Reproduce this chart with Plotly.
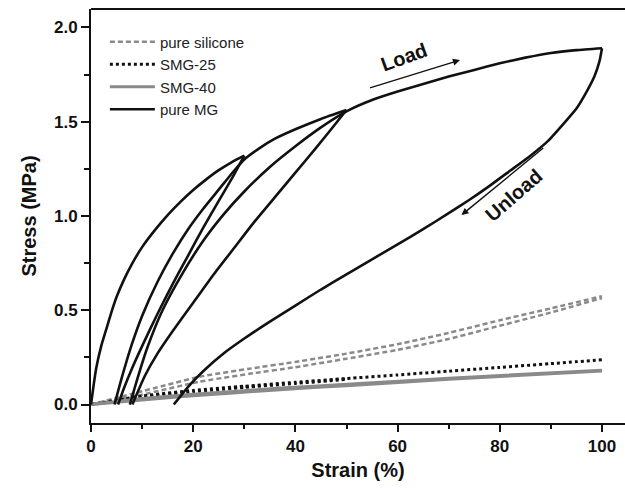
import plotly.graph_objects as go

# ---------------- data ----------------
# pure MG: cyclic loading to 30 %, 50 %, 100 % strain
mg_load1_strain = [0, 0.5, 1, 2, 3, 4, 5, 6.5, 8, 10, 12.5, 15, 17.5, 20, 22.5, 25, 27.5, 30]
mg_load1_stress = [0, 0.10, 0.19, 0.31, 0.40, 0.49, 0.57, 0.665, 0.745, 0.835, 0.925, 1.005,
                   1.075, 1.138, 1.193, 1.243, 1.285, 1.32]

mg_unload1_strain = [30, 28, 25, 22, 19, 16, 13, 10, 8, 6.5, 5.3]
mg_unload1_stress = [1.32, 1.22, 1.08, 0.94, 0.79, 0.64, 0.48, 0.31, 0.19, 0.09, 0]

mg_load2_strain = [4.6, 6, 8, 10, 13, 16, 19, 22, 25, 28, 30, 33, 36, 40, 45, 50]
mg_load2_stress = [0, 0.14, 0.32, 0.47, 0.65, 0.80, 0.93, 1.04, 1.14, 1.24, 1.30, 1.36,
                   1.41, 1.46, 1.515, 1.562]

mg_unload2_strain = [50, 47, 44, 40, 36, 32, 28, 24, 20, 16, 13, 10.5, 8.1]
mg_unload2_stress = [1.562, 1.46, 1.36, 1.23, 1.10, 0.97, 0.83, 0.69, 0.54, 0.39, 0.27, 0.15, 0]

mg_load3_strain = [7.6, 9, 11, 14, 18, 22, 26, 30, 35, 40, 45, 50, 55, 60, 65, 70, 75, 80,
                   85, 90, 95, 100]
mg_load3_stress = [0, 0.13, 0.30, 0.50, 0.70, 0.87, 1.01, 1.13, 1.26, 1.37, 1.47, 1.555,
                   1.615, 1.66, 1.70, 1.74, 1.775, 1.81, 1.84, 1.865, 1.88, 1.89]

mg_unload3_strain = [100, 99.5, 98.5, 97, 95, 92.5, 89.5, 86, 82, 78, 74, 70, 65, 60, 55, 50,
                     45, 40, 35, 30, 26, 22, 19, 16.2]
mg_unload3_stress = [1.89, 1.82, 1.74, 1.66, 1.57, 1.49, 1.40, 1.32, 1.24, 1.16, 1.085, 1.015,
                     0.93, 0.85, 0.77, 0.69, 0.61, 0.525, 0.44, 0.35, 0.272, 0.178, 0.094, 0]

# pure silicone (load / unload)
sil_strain = [0, 5, 10, 21, 31, 40, 50, 60, 70, 80, 90, 100]
sil_load = [0, 0.035, 0.07, 0.146, 0.19, 0.226, 0.27, 0.32, 0.38, 0.447, 0.51, 0.575]
sil_unload = [0, 0.025, 0.052, 0.12, 0.163, 0.198, 0.243, 0.29, 0.348, 0.418, 0.488, 0.565]

# SMG-25
smg25_strain = [0, 10, 20, 30, 40, 50, 60, 70, 80, 90, 100]
smg25_load = [0, 0.045, 0.075, 0.097, 0.118, 0.138, 0.157, 0.177, 0.197, 0.217, 0.237]
smg25_cyc_strain = [0, 10, 20, 30, 40, 50]
smg25_cyc_stress = [0, 0.038, 0.068, 0.091, 0.112, 0.133]

# SMG-40
smg40_strain = [0, 10, 20, 37, 50, 70, 100]
smg40_load = [0, 0.032, 0.054, 0.087, 0.107, 0.14, 0.182]
smg40_unload = [0, 0.024, 0.046, 0.079, 0.1, 0.134, 0.178]

x_ticks = [0, 20, 40, 60, 80, 100]
y_ticks = [0.0, 0.5, 1.0, 1.5, 2.0]

GRAY = "#8a8a8a"
BLACK = "#111111"

fig = go.Figure()


def add(x, y, name, color, width, dash, show):
    fig.add_trace(go.Scatter(
        x=x, y=y, mode="lines", name=name, legendgroup=name, showlegend=show,
        line=dict(color=color, width=width, dash=dash, shape="spline", smoothing=0.5),
        hoverinfo="skip"))


add(sil_strain, sil_load, "pure silicone", GRAY, 2.5, "5px,3px", True)
add(sil_strain, sil_unload, "pure silicone", GRAY, 2.5, "5px,3px", False)

add(smg25_strain, smg25_load, "SMG-25", BLACK, 3, "dot", True)
add(smg25_cyc_strain, smg25_cyc_stress, "SMG-25", BLACK, 3, "dot", False)

add(smg40_strain, smg40_load, "SMG-40", GRAY, 3, "solid", True)
add(smg40_strain, smg40_unload, "SMG-40", GRAY, 3, "solid", False)

mg = [
    (mg_load1_strain, mg_load1_stress),
    (mg_unload1_strain, mg_unload1_stress),
    (mg_load2_strain, mg_load2_stress),
    (mg_unload2_strain, mg_unload2_stress),
    (mg_load3_strain, mg_load3_stress),
    (mg_unload3_strain, mg_unload3_stress),
]
for i, (xs, ys) in enumerate(mg):
    add(xs, ys, "pure MG", BLACK, 2.6, "solid", i == 0)

FONT = "Liberation Sans, Arial, sans-serif"

# Load / Unload arrows and labels (data coordinates)
fig.add_annotation(x=72.2, y=1.827, ax=54.3, ay=1.677, xref="x", yref="y", axref="x", ayref="y",
                   showarrow=True, arrowhead=2, arrowsize=1, arrowwidth=1.4, arrowcolor=BLACK, text="")
fig.add_annotation(x=72.5, y=1.005, ax=88.8, ay=1.367, xref="x", yref="y", axref="x", ayref="y",
                   showarrow=True, arrowhead=2, arrowsize=1, arrowwidth=1.4, arrowcolor=BLACK, text="")
fig.add_annotation(x=61.3, y=1.845, text="<b>Load</b>", showarrow=False, textangle=-20,
                   font=dict(family=FONT, size=20, color=BLACK))
fig.add_annotation(x=82.8, y=1.11, text="<b>Unload</b>", showarrow=False, textangle=-41,
                   font=dict(family=FONT, size=20, color=BLACK))

# top border of the frame
fig.add_shape(type="line", xref="paper", yref="paper", x0=0, x1=1, y0=1, y1=1,
              line=dict(color=BLACK, width=2))

fig.update_layout(
    width=625, height=491,
    margin=dict(l=91, r=0, t=9, b=68),
    paper_bgcolor="white", plot_bgcolor="white",
    font=dict(family=FONT, color=BLACK),
    showlegend=True,
    legend=dict(x=0.026, y=0.96, xanchor="left", yanchor="top",
                bgcolor="rgba(0,0,0,0)", font=dict(family=FONT, size=15, color="#222222"),
                itemwidth=45, tracegroupgap=0),
    xaxis=dict(range=[0, 104.5], tickvals=x_ticks, ticktext=[str(v) for v in x_ticks],
               showline=True, linecolor=BLACK, linewidth=2, mirror=False,
               ticks="outside", ticklen=7, tickwidth=2, tickcolor=BLACK,
               minor=dict(dtick=10, tick0=0, ticks="outside", ticklen=4, tickwidth=1.5, tickcolor=BLACK),
               showgrid=False, zeroline=False,
               tickfont=dict(family=FONT, size=17, color=BLACK, weight="bold"),
               title=dict(text="<b>Strain (%)</b>", font=dict(family=FONT, size=20, color=BLACK), standoff=8)),
    yaxis=dict(range=[-0.098, 2.098], tickvals=y_ticks, ticktext=[f"{v:.1f}" for v in y_ticks],
               showline=True, linecolor=BLACK, linewidth=2, mirror=False,
               ticks="outside", ticklen=8, tickwidth=2, tickcolor=BLACK,
               minor=dict(dtick=0.25, tick0=0, ticks="outside", ticklen=5, tickwidth=1.5, tickcolor=BLACK),
               showgrid=False, zeroline=False,
               tickfont=dict(family=FONT, size=17, color=BLACK, weight="bold"),
               title=dict(text="<b>Stress (MPa)</b>", font=dict(family=FONT, size=20, color=BLACK), standoff=12)),
)

fig.write_html("out.html")
